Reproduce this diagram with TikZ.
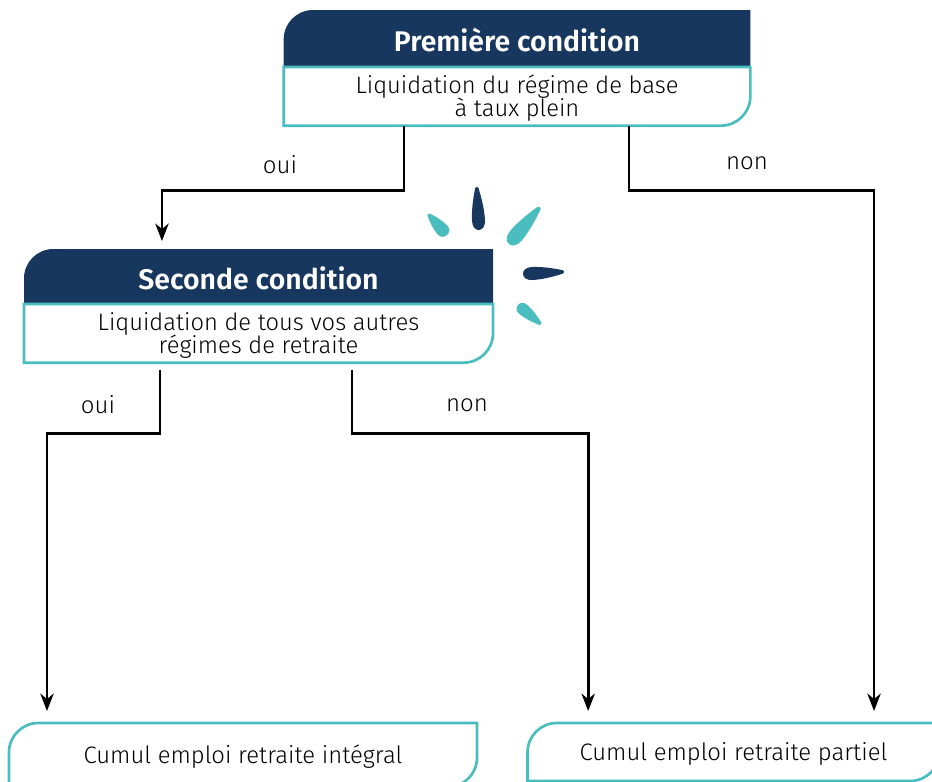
\documentclass[tikz,border=0pt]{standalone}
\usepackage{fontspec}
\setmainfont{Fira Sans}[UprightFont=* Light, BoldFont=* SemiBold]
\usetikzlibrary{arrows.meta, positioning, backgrounds}
\definecolor{navy}{HTML}{18375F}
\definecolor{lagoon}{HTML}{4ABDBE}
\tikzset{
    headbox/.style={minimum height=41.25pt, inner sep=0pt, outer sep=0pt, text=white, text height=18.8pt, text depth=0pt, font=\fontsize{21.3}{21.3}\selectfont\bfseries},
    bodybox/.style={minimum height=44pt, inner sep=0pt, outer sep=0pt, align=center, text height=30pt, text depth=0pt, font=\fontsize{17.8}{16}\selectfont},
    endbox/.style={inner sep=0pt, outer sep=0pt, text depth=0pt, font=\fontsize{17.9}{18}\selectfont},
    link/.style={line width=2pt, ->, >={Stealth[length=13pt, width=10pt, inset=4pt]}},
    answer/.style={inner sep=0pt, font=\fontsize{18}{18}\selectfont},
    outline/.style={draw=lagoon, line width=2pt, fill=white}
}
\begin{document}
\begin{tikzpicture}[x=0.75pt, y=-0.75pt]
    \useasboundingbox (0,0) rectangle (932,782);
    \clip (0,0) rectangle (932,782);
    \node[headbox, minimum width=350pt, minimum height=42.75pt] (firsthead) at (517,38.5) {Première condition};
    \node[bodybox, minimum width=350pt, below=0pt of firsthead] (firstbody) {Liquidation du régime de base\\[-1.65pt]à taux plein};
    \node[headbox, minimum width=351.75pt] (secondhead) at (258.5,276.5) {Seconde condition};
    \node[bodybox, minimum width=351.75pt, below=0pt of secondhead] (secondbody) {Liquidation de tous vos autres\\[-1.65pt]régimes de retraite};
    \node[endbox, minimum width=351pt, minimum height=48pt, text height=12pt] (integral) at (243,755) {Cumul emploi retraite intégral};
    \node[endbox, minimum width=309pt, minimum height=43.5pt, text height=13pt] (partial) at (733.5,752) {Cumul emploi retraite partiel};
    \begin{scope}[on background layer]
        \foreach \nd in {firsthead, secondhead}
            \fill[navy] (\nd.south west) [rounded corners=22pt] -- (\nd.north west) [sharp corners] -- (\nd.north east) -- (\nd.south east) -- cycle;
        \foreach \nd in {firstbody, secondbody}
            \draw[outline] (\nd.north west) -- (\nd.south west) [rounded corners=22pt] -- (\nd.south east) [sharp corners] -- (\nd.north east) -- cycle;
        \foreach \nd in {integral, partial}
            \draw[outline] (\nd.south west) [rounded corners=22pt] -- (\nd.north west) [sharp corners] -- (\nd.north east) [rounded corners=22pt] -- (\nd.south east) [sharp corners] -- cycle;
    \end{scope}
    \draw[link, shorten >=6pt] ([xshift=-84.75pt]firstbody.south) -- ++(0,65) -| ([xshift=-72.4pt]secondhead.north);
    \draw[link, shorten >=9pt] ([xshift=84pt]firstbody.south) -- ++(0,65) -| ([xshift=105.4pt]partial.north);
    \draw[link, shorten <=5.25pt, shorten >=9pt] ([xshift=-73.9pt]secondbody.south) -- ++(0,71) -| ([xshift=-147pt]integral.north);
    \draw[link, shorten <=5.25pt, shorten >=9pt] ([xshift=70.1pt]secondbody.south) -- ++(0,71) -| ([xshift=-109pt]partial.north);
    \node[answer] (ouifirst) at (280,165) {oui};
    \node[answer] (nonfirst) at (747,163) {non};
    \node[answer] (ouisecond) at (98,405) {oui};
    \node[answer] (nonsecond) at (467,405) {non};
    \foreach \px/\py/\ang/\len/\wid/\col in {447/235/132/28/6.5/lagoon, 479/230/93/43/6.5/navy, 509/244/50/48/7.5/lagoon, 523/274/3/41/6.5/navy, 518/305/-40/30/6/lagoon}
        \fill[\col, shift={(\px,\py)}, rotate=\ang, xscale=\len, yscale=\wid] (.98,.25) .. controls (.8,.55) and (.5,1) .. (.22,1) .. controls (.08,1) and (0,.55) .. (0,0) .. controls (0,-.55) and (.08,-1) .. (.22,-1) .. controls (.5,-1) and (.8,-.55) .. (.98,-.25) .. controls (1.01,-.12) and (1.01,.12) .. (.98,.25) -- cycle;
\end{tikzpicture}
\end{document}
